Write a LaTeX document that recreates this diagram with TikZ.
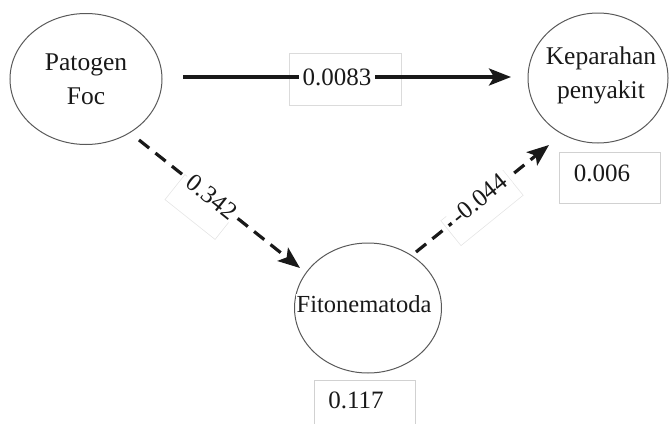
\documentclass[tikz,border=0pt]{standalone}
\usepackage{fontspec}
\setmainfont{Liberation Serif}
\usetikzlibrary{shapes.geometric,arrows.meta}

\tikzset{
  latent/.style={ellipse, draw=black!65, line width=1pt, inner sep=0pt},
  nodetext/.style={font=\fontsize{25.5}{34}\selectfont, align=center, text=black!90},
  valtext/.style={font=\fontsize{25}{28}\selectfont, text=black!90},
  path/.style={line width=3.2pt, black!90, -{Stealth[length=22pt,width=17pt,inset=5pt]}},
  dashpath/.style={path, dash pattern=on 13pt off 8pt},
  edgelabel/.style={valtext, fill=white, inner xsep=4pt, inner ysep=1pt},
  faintframe/.style={draw=black!10, line width=0.6pt},
  valbox/.style={draw=black!18, line width=0.6pt, minimum width=101pt, minimum height=51pt}
}

\begin{document}
\begin{tikzpicture}[x=1pt, y=-1pt]
  \useasboundingbox (0,0) rectangle (669,423);

  % latent variables
  \node[latent, minimum width=152pt, minimum height=131pt] (foc) at (86,79) {};
  \node[nodetext] at (foc.center) {Patogen\\Foc};
  \node[latent, minimum width=140pt, minimum height=130pt] (kp) at (598,78) {};
  \node[nodetext] at (601,75) {Keparahan\\penyakit};
  \node[latent, minimum width=147pt, minimum height=130pt] (fn) at (368,308) {};
  \node[nodetext, font=\fontsize{24.5}{33}\selectfont, fill=white, inner sep=1pt] at (364,304) {Fitonematoda};

  % R-square boxes
  \node[valbox] (rk) at (610,177.5) {};
  \node[valtext] at (602,173) {0.006};
  \node[valbox, minimum height=60pt] (rf) at (365,410) {};
  \node[valtext] at (356,400) {0.117};

  % faint frames around the path coefficients
  \draw[faintframe, draw=black!14] (289,53) rectangle (401,105);
  \draw[faintframe, rotate around={-38.5:(200,207)}] (168,191) rectangle (232,223);
  \draw[faintframe, rotate around={39:(482,208)}] (442,192) rectangle (522,224);

  % structural paths
  \coordinate (a1) at (183,77);
  \coordinate (b1) at (511,77);
  \draw[path] (a1) -- (b1);
  \node[edgelabel] at (337,77) {0.0083};

  \coordinate (a2) at (139,140);
  \coordinate (b2) at (300,268);
  \draw[dashpath] (a2) -- (b2);
  \node[edgelabel, rotate=-38.5] at (212,197) {0.342};

  \coordinate (a3) at (416,252);
  \coordinate (b3) at (549,145);
  \draw[dashpath] (a3) -- (b3);
  \node[edgelabel, rotate=39] at (479,199) {-0.044};
\end{tikzpicture}
\end{document}
